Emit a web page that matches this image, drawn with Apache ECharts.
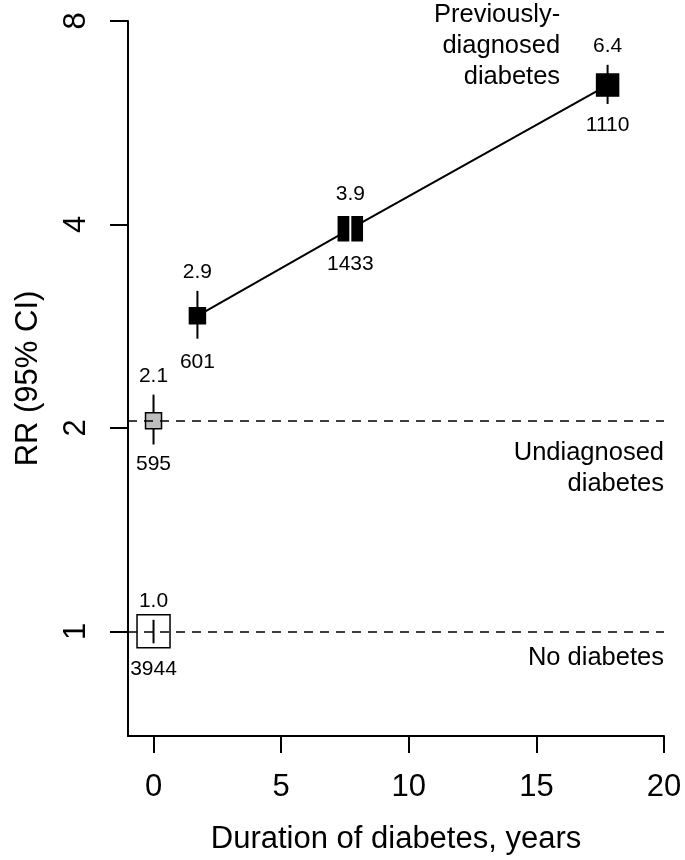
<!DOCTYPE html>
<html>
<head>
<meta charset="utf-8">
<script src="https://cdn.jsdelivr.net/npm/echarts@6/dist/echarts.min.js"></script>
<style>
html, body { margin: 0; padding: 0; background: #fff; }
#chart { width: 685px; height: 860px; }
</style>
</head>
<body>
<div id="chart"></div>
<script>
"use strict";

/*-----data-----*/
var duration = [0, 0, 1.72, 7.71, 17.79];
var rr = [1.0, 2.05, 2.93, 3.94, 6.43];
var rrLow = [0.96, 1.89, 2.71, 3.72, 6.03];
var rrHigh = [1.04, 2.24, 3.19, 4.17, 6.89];
var rrText = ['1.0', '2.1', '2.9', '3.9', '6.4'];
var cases = [3944, 595, 601, 1433, 1110];
var trendIdx = [2, 3, 4];
var refLines = [1.0, 2.05];
var xTicks = [0, 5, 10, 15, 20];
var yTicks = [1, 2, 4, 8];
var notes = [
	{ text: 'Previously-\ndiagnosed\ndiabetes', x: 15.93, y: 7.35 },
	{ text: 'Undiagnosed\ndiabetes', x: 20, y: 1.74 },
	{ text: 'No diabetes', x: 20, y: 0.912 }
];

/*-----styles-----*/
var font = '"Liberation Sans", Arial, sans-serif';
var boxSize = [33, 16, 16, 24, 22];
var boxFill = ['#ffffff', '#bebebe', '#000000', '#000000', '#000000'];
var whiskerColor = ['#000000', '#000000', '#000000', '#ffffff', '#000000'];
var whiskerFront = [true, false, false, true, false];
var gapBelow = [15, 9, 13, 8, 11];

function whiskers(front) {
	var rows = [];
	duration.forEach(function (d, i) {
		if (whiskerFront[i] === front) rows.push([d, rrLow[i], rrHigh[i], i]);
	});
	return {
		type: 'custom',
		z: front ? 6 : 2,
		silent: true,
		encode: { x: 0, y: [1, 2] },
		data: rows,
		renderItem: function (params, api) {
			var lo = api.coord([api.value(0), api.value(1)]);
			var hi = api.coord([api.value(0), api.value(2)]);
			return {
				type: 'line',
				shape: { x1: lo[0], y1: lo[1], x2: hi[0], y2: hi[1] },
				style: { stroke: whiskerColor[api.value(3)], lineWidth: 2 }
			};
		}
	};
}

var chart = echarts.init(document.getElementById('chart'));
var option = {
	animation: false,
	backgroundColor: '#ffffff',
	textStyle: { fontFamily: font },
	grid: { left: 128, right: 21, top: 21, bottom: 122 },
	xAxis: {
		type: 'value',
		min: -1,
		max: 20,
		name: 'Duration of diabetes, years',
		nameLocation: 'middle',
		nameGap: 88,
		nameTextStyle: { fontSize: 31, color: '#000', fontFamily: font },
		splitLine: { show: false },
		axisLine: { show: true, onZero: false, lineStyle: { color: '#000', width: 2 } },
		axisTick: { show: true, customValues: xTicks, length: 17, lineStyle: { color: '#000', width: 2 } },
		axisLabel: { customValues: xTicks, fontSize: 31, color: '#000', margin: 36, fontFamily: font }
	},
	yAxis: {
		type: 'log',
		logBase: 2,
		min: 0.7,
		max: 8,
		name: 'RR (95% CI)',
		nameLocation: 'middle',
		nameGap: 84,
		nameTextStyle: { fontSize: 31, color: '#000', fontFamily: font },
		splitLine: { show: false },
		axisLine: { show: true, onZero: false, lineStyle: { color: '#000', width: 2 } },
		axisTick: { show: true, customValues: yTicks, length: 18, lineStyle: { color: '#000', width: 2 } },
		axisLabel: { customValues: yTicks, rotate: 90, fontSize: 31, color: '#000', margin: 36, fontFamily: font }
	},
	series: [
		whiskers(false),
		{
			type: 'line',
			z: 2,
			silent: true,
			symbol: 'none',
			data: trendIdx.map(function (i) { return [duration[i], rr[i]]; }),
			lineStyle: { color: '#000', width: 2 },
			markLine: {
				silent: true,
				symbol: 'none',
				label: { show: false },
				lineStyle: { color: '#000', width: 1.6, type: [9, 7] },
				data: refLines.map(function (v) { return { yAxis: v }; })
			}
		},
		{
			type: 'scatter',
			z: 4,
			silent: true,
			symbol: 'rect',
			data: duration.map(function (d, i) {
				return {
					value: [d, rr[i]],
					symbolSize: boxSize[i],
					itemStyle: { color: boxFill[i], borderColor: '#000', borderWidth: 1.5, opacity: 1 }
				};
			})
		},
		whiskers(true),
		{
			type: 'scatter',
			z: 7,
			silent: true,
			symbolSize: 0,
			itemStyle: { opacity: 1 },
			data: duration.map(function (d, i) { return [d, rrHigh[i]]; }),
			label: {
				show: true,
				position: 'top',
				distance: 8,
				fontSize: 21,
				color: '#000',
				fontFamily: font,
				formatter: function (p) { return rrText[p.dataIndex]; }
			}
		},
		{
			type: 'scatter',
			z: 7,
			silent: true,
			symbolSize: 0,
			itemStyle: { opacity: 1 },
			data: duration.map(function (d, i) {
				return { value: [d, rrLow[i]], label: { distance: gapBelow[i] } };
			}),
			label: {
				show: true,
				position: 'bottom',
				fontSize: 21,
				color: '#000',
				fontFamily: font,
				formatter: function (p) { return String(cases[p.dataIndex]); }
			}
		}
	]
};
chart.setOption(option);

// text notes placed through the axes
chart.setOption({
	graphic: notes.map(function (n) {
		var pt = chart.convertToPixel({ gridIndex: 0 }, [n.x, n.y]);
		return {
			type: 'text',
			x: pt[0],
			y: pt[1],
			silent: true,
			style: {
				text: n.text,
				fontSize: 25.5,
				fontFamily: font,
				fill: '#000',
				align: 'right',
				verticalAlign: 'middle',
				lineHeight: 31
			}
		};
	})
});
</script>
</body>
</html>
